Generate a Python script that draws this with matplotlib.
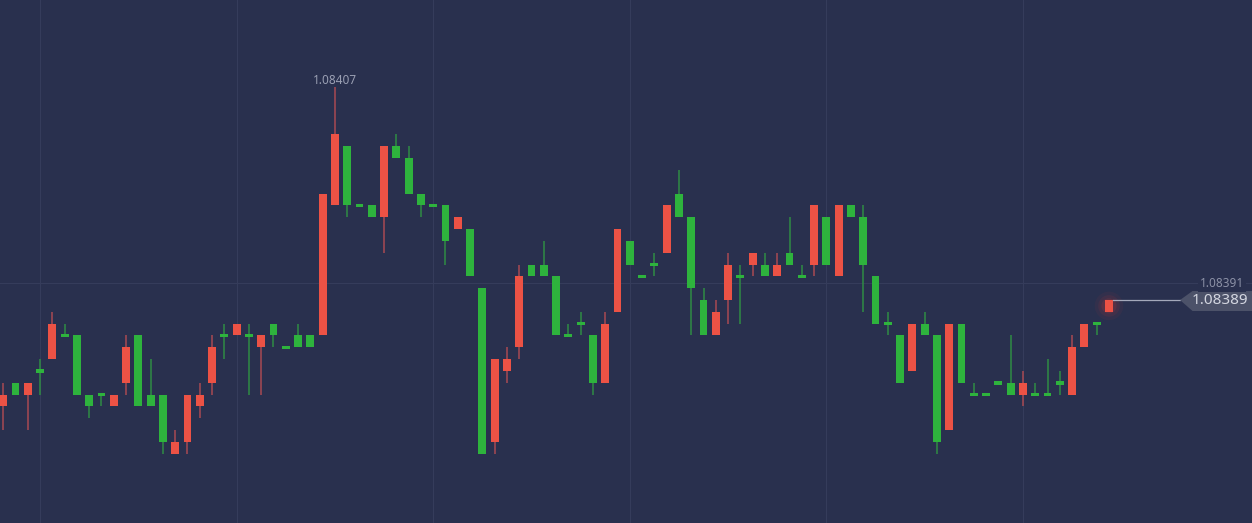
import matplotlib
matplotlib.use("Agg")
import matplotlib.pyplot as plt
import numpy as np
from matplotlib.patches import Polygon
import matplotlib.transforms as mtransforms

# candle data (EUR/USD style quotes), one entry per candle
opens = [1.08380, 1.08382, 1.08381, 1.08383, 1.08384, 1.08386, 1.08386, 1.08381, 1.08381, 1.08380,
         1.08382, 1.08386, 1.08381, 1.08381, 1.08376, 1.08377, 1.08380, 1.08382, 1.08386, 1.08386,
         1.08386, 1.08385, 1.08387, 1.08385, 1.08386, 1.08386, 1.08386, 1.08397, 1.08402, 1.08397,
         1.08397, 1.08396, 1.08402, 1.08401, 1.08398, 1.08397, 1.08397, 1.08395, 1.08395, 1.08390,
         1.08377, 1.08383, 1.08385, 1.08392, 1.08392, 1.08391, 1.08386, 1.08387, 1.08386, 1.08382,
         1.08388, 1.08394, 1.08391, 1.08392, 1.08393, 1.08398, 1.08396, 1.08389, 1.08386, 1.08389,
         1.08391, 1.08392, 1.08392, 1.08391, 1.08393, 1.08391, 1.08392, 1.08396, 1.08391, 1.08397,
         1.08396, 1.08391, 1.08387, 1.08386, 1.08383, 1.08387, 1.08386, 1.08378, 1.08387, 1.08381,
         1.08381, 1.08382, 1.08382, 1.08381, 1.08381, 1.08381, 1.08382, 1.08381, 1.08385, 1.08387,
         1.08388]
highs = [1.08382, 1.08382, 1.08382, 1.08384, 1.08388, 1.08387, 1.08386, 1.08381, 1.08381, 1.08381,
         1.08386, 1.08386, 1.08384, 1.08381, 1.08378, 1.08381, 1.08382, 1.08386, 1.08387, 1.08387,
         1.08387, 1.08386, 1.08387, 1.08385, 1.08387, 1.08386, 1.08398, 1.08407, 1.08402, 1.08397,
         1.08397, 1.08402, 1.08403, 1.08402, 1.08398, 1.08397, 1.08397, 1.08396, 1.08395, 1.08390,
         1.08384, 1.08385, 1.08392, 1.08392, 1.08394, 1.08391, 1.08387, 1.08388, 1.08386, 1.08388,
         1.08395, 1.08394, 1.08391, 1.08393, 1.08397, 1.08400, 1.08396, 1.08390, 1.08389, 1.08393,
         1.08392, 1.08393, 1.08393, 1.08393, 1.08396, 1.08392, 1.08397, 1.08396, 1.08397, 1.08397,
         1.08397, 1.08391, 1.08388, 1.08386, 1.08387, 1.08388, 1.08386, 1.08387, 1.08387, 1.08382,
         1.08381, 1.08382, 1.08386, 1.08383, 1.08382, 1.08384, 1.08383, 1.08386, 1.08387, 1.08387,
         1.08389]
lows = [1.08378, 1.08381, 1.08378, 1.08381, 1.08384, 1.08386, 1.08381, 1.08379, 1.08380, 1.08380,
        1.08381, 1.08380, 1.08380, 1.08376, 1.08376, 1.08376, 1.08379, 1.08381, 1.08384, 1.08386,
        1.08381, 1.08381, 1.08385, 1.08385, 1.08385, 1.08385, 1.08386, 1.08397, 1.08396, 1.08397,
        1.08396, 1.08393, 1.08401, 1.08398, 1.08396, 1.08397, 1.08392, 1.08395, 1.08391, 1.08376,
        1.08376, 1.08382, 1.08384, 1.08391, 1.08391, 1.08386, 1.08386, 1.08386, 1.08381, 1.08382,
        1.08388, 1.08392, 1.08391, 1.08391, 1.08393, 1.08396, 1.08386, 1.08386, 1.08386, 1.08387,
        1.08387, 1.08391, 1.08391, 1.08391, 1.08392, 1.08391, 1.08391, 1.08392, 1.08391, 1.08396,
        1.08388, 1.08387, 1.08386, 1.08382, 1.08383, 1.08386, 1.08376, 1.08378, 1.08382, 1.08381,
        1.08381, 1.08382, 1.08381, 1.08380, 1.08381, 1.08381, 1.08381, 1.08381, 1.08385, 1.08386,
        1.08388]
closes = [1.08381, 1.08381, 1.08382, 1.08383, 1.08387, 1.08386, 1.08381, 1.08380, 1.08381, 1.08381,
          1.08385, 1.08380, 1.08380, 1.08377, 1.08377, 1.08381, 1.08381, 1.08385, 1.08386, 1.08387,
          1.08386, 1.08386, 1.08386, 1.08385, 1.08385, 1.08385, 1.08398, 1.08403, 1.08397, 1.08397,
          1.08396, 1.08402, 1.08401, 1.08398, 1.08397, 1.08397, 1.08394, 1.08396, 1.08391, 1.08376,
          1.08384, 1.08384, 1.08391, 1.08391, 1.08391, 1.08386, 1.08386, 1.08387, 1.08382, 1.08387,
          1.08395, 1.08392, 1.08391, 1.08392, 1.08397, 1.08396, 1.08390, 1.08386, 1.08388, 1.08392,
          1.08391, 1.08393, 1.08391, 1.08392, 1.08392, 1.08391, 1.08397, 1.08392, 1.08397, 1.08396,
          1.08392, 1.08387, 1.08387, 1.08382, 1.08387, 1.08386, 1.08377, 1.08387, 1.08382, 1.08381,
          1.08381, 1.08382, 1.08381, 1.08382, 1.08381, 1.08381, 1.08382, 1.08385, 1.08387, 1.08387,
          1.08389]

grid_price = 1.083904      # horizontal grid line
grid_label = "1.08391"
high_label = "1.08407"
last_label = "1.08389"

bg = "#29304e"
up_col = "#ec5245"      # rising candles are red on this chart
dn_col = "#2eb33d"
up_wick = "#a84a52"
dn_wick = "#2f8c44"
grid_col = "#353c5b"

opens = np.array(opens)
highs = np.array(highs)
lows = np.array(lows)
closes = np.array(closes)
x = np.arange(len(opens))
up = closes > opens

fig = plt.figure(figsize=(12.52, 5.23), dpi=100, facecolor=bg)
ax = fig.add_axes([0, 0, 1, 1])
ax.set_facecolor(bg)
ax.set_xlim(-0.256, 101.64)
ax.set_ylim(1.0837015, 1.0841436)
for s in ax.spines.values():
    s.set_visible(False)
ax.set_xticks([])
ax.set_yticks([])

# grid
for gx in range(3, len(x), 16):
    ax.axvline(gx, color=grid_col, lw=0.8, zorder=0)
ax.axhline(grid_price, color=grid_col, lw=0.8, zorder=0)

# wicks
ax.vlines(x, lows, highs, colors=np.where(up, up_wick, dn_wick), lw=1.1, zorder=2)

# bodies
min_h = 0.000003
bottoms = np.minimum(opens, closes)
heights = np.maximum(np.abs(closes - opens), min_h)
bottoms = np.where(np.abs(closes - opens) < min_h, bottoms - min_h / 2, bottoms)
ax.bar(x, heights, bottom=bottoms, width=0.64, color=np.where(up, up_col, dn_col),
       edgecolor="none", zorder=3)

# glow on the live candle
last = len(closes) - 1
mid = (opens[last] + closes[last]) / 2
for sz, a in [(420, 0.05), (240, 0.08), (120, 0.12)]:
    ax.scatter([last], [mid], s=sz, color="#ff3a2e", alpha=a, edgecolors="none", zorder=2.5)

# max label
ax.annotate(high_label, (x[np.argmax(highs)], highs.max()), xytext=(0, 0),
            textcoords="offset points", ha="center", va="bottom",
            fontsize=8.5, color="#9a9fb3", family="Noto Sans")

# last price line and tag
trans = mtransforms.blended_transform_factory(ax.transAxes, ax.transData)
xl = ax.transData.inverted().transform(ax.transAxes.transform((0.9425, 0)))[0]
ax.plot([last + 0.3, xl], [closes[last], closes[last]], color="#a4a9bb", lw=0.9, zorder=4)
top = closes[last] + 0.0000076
bot = closes[last] - 0.0000093
tag = Polygon([(0.9425, closes[last]), (0.9525, top), (1.0, top), (1.0, bot), (0.9525, bot)],
              closed=True, transform=trans, facecolor="#4c5269", edgecolor="none", zorder=5)
ax.add_patch(tag)
ax.text(0.974, closes[last] - 0.0000008, last_label, transform=trans, ha="center", va="center",
        fontsize=11, color="#d3d6e0", family="Noto Sans", zorder=6)
ax.text(0.9935, grid_price, grid_label, transform=trans, ha="right", va="center",
        fontsize=8.5, color="#8c91a6", family="Noto Sans", zorder=6,
        bbox=dict(boxstyle="square,pad=0.15", facecolor=bg, edgecolor="none"))

fig.savefig("out.png", dpi=100, facecolor=bg)
